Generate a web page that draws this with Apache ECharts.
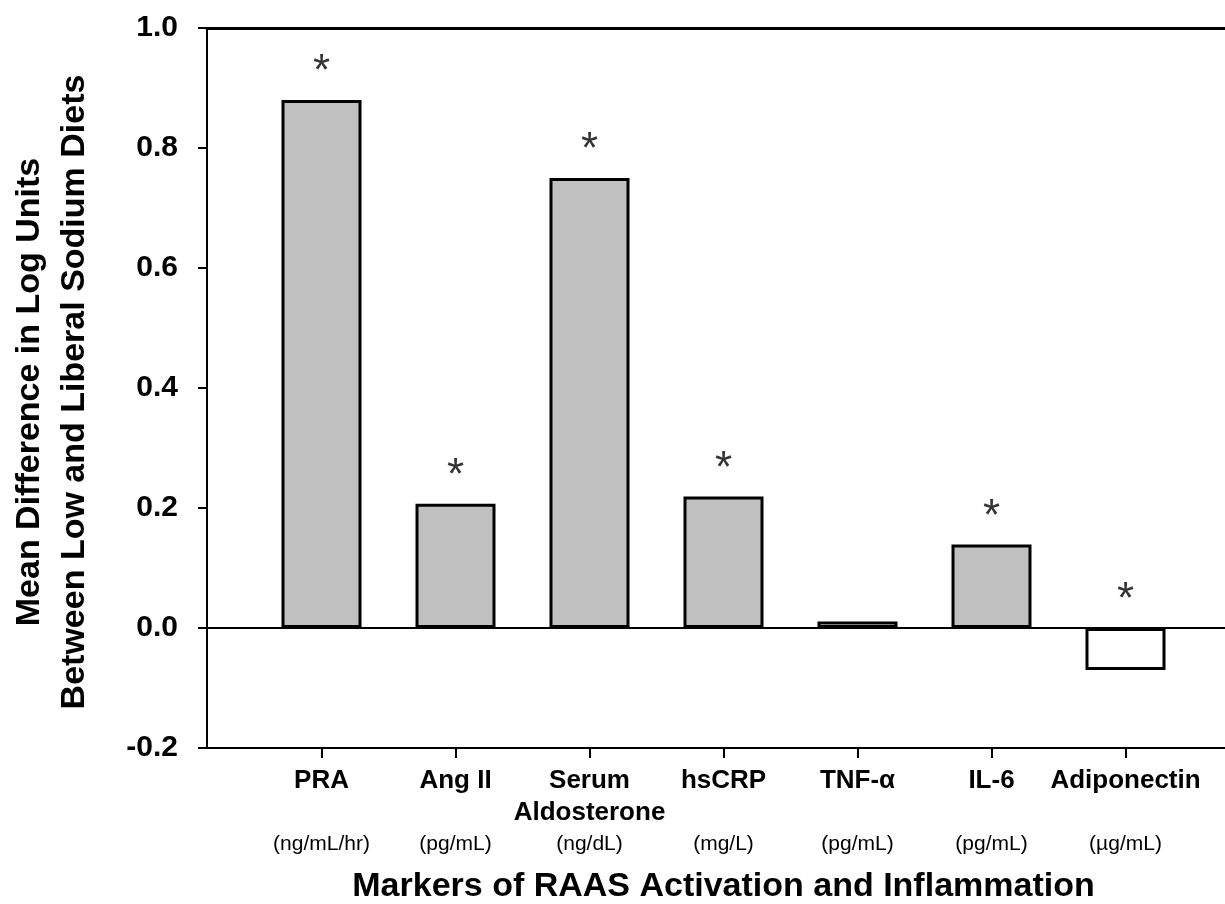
<!DOCTYPE html>
<html>
<head>
<meta charset="utf-8">
<script src="https://cdn.jsdelivr.net/npm/echarts@6/dist/echarts.min.js"></script>
<style>
html,body{margin:0;padding:0;background:#fff;}
#chart{width:1225px;height:904px;}
</style>
</head>
<body>
<div id="chart"></div>
<script>
var categories = ['PRA', 'Ang II', 'Serum\nAldosterone', 'hsCRP', 'TNF-α', 'IL-6', 'Adiponectin'];
var units = ['(ng/mL/hr)', '(pg/mL)', '(ng/dL)', '(mg/L)', '(pg/mL)', '(pg/mL)', '(µg/mL)'];
var values = [0.88, 0.207, 0.75, 0.219, 0.011, 0.139, -0.07];
var filled = [true, true, true, true, false, true, false];
var significant = [true, true, true, true, false, true, true];
var yTicks = { min: -0.2, max: 1.0, interval: 0.2 };
var xTitle = 'Markers of RAAS Activation and Inflammation';
var yTitleLines = ['Mean Difference in Log Units', 'Between Low and Liberal Sodium Diets'];

var FONT = "'Liberation Sans', Arial, sans-serif";

var barData = values.map(function (v, i) {
  return {
    value: v,
    itemStyle: { color: filled[i] ? '#c0c0c0' : '#ffffff', borderColor: '#000', borderWidth: 3 }
  };
});
var starData = values.map(function (v, i) {
  return significant[i] ? Math.max(v, 0) : '-';
});

var chart = echarts.init(document.getElementById('chart'), null, { renderer: 'canvas' });
chart.setOption({
  backgroundColor: '#ffffff',
  animation: false,
  textStyle: { fontFamily: FONT },
  grid: [
    { left: 207, right: 0, top: 28, bottom: 156, outerBoundsMode: 'none', containLabel: false },
    { left: 254.5, right: 32.5, top: 28, bottom: 156, outerBoundsMode: 'none', containLabel: false }
  ],
  xAxis: [
    { type: 'value', gridIndex: 0, min: 0, max: 1, position: 'bottom',
      axisLine: { show: true, onZero: false, lineStyle: { color: '#000', width: 2 } },
      axisTick: { show: false }, axisLabel: { show: false }, splitLine: { show: false } },
    { type: 'value', gridIndex: 0, min: 0, max: 1, position: 'top',
      axisLine: { show: true, onZero: false, lineStyle: { color: '#000', width: 3 } },
      axisTick: { show: false }, axisLabel: { show: false }, splitLine: { show: false } },
    { type: 'category', gridIndex: 1, data: categories, position: 'bottom',
      axisLine: { show: false, onZero: false },
      axisTick: { show: true, alignWithLabel: true, length: 10, lineStyle: { color: '#000', width: 2 } },
      axisLabel: {
        interval: 0, margin: 17,
        formatter: function (val, idx) {
          var parts = val.split('\n');
          var lines = parts.map(function (p) { return '{n|' + p + '}'; });
          while (lines.length < 2) lines.push('{n| }');
          lines.push('{u|' + units[idx] + '}');
          return lines.join('\n');
        },
        rich: {
          n: { fontFamily: FONT, fontWeight: 'bold', fontSize: 26, lineHeight: 32, color: '#000' },
          u: { fontFamily: FONT, fontSize: 21, lineHeight: 30, color: '#000' }
        }
      },
      name: xTitle, nameLocation: 'middle', nameGap: 122,
      nameTextStyle: { fontFamily: FONT, fontWeight: 'bold', fontSize: 34, color: '#000' }
    }
  ],
  yAxis: [
    { type: 'value', gridIndex: 0, min: yTicks.min, max: yTicks.max, interval: yTicks.interval,
      axisLine: { show: true, onZero: false, lineStyle: { color: '#000', width: 2 } },
      axisTick: { show: true, length: 9, lineStyle: { color: '#000', width: 2 } },
      axisLabel: { margin: 29, fontFamily: FONT, fontWeight: 'bold', fontSize: 30, color: '#000',
        formatter: function (v) { return v.toFixed(1); } },
      splitLine: { show: false } },
    { type: 'value', gridIndex: 1, min: yTicks.min, max: yTicks.max, interval: yTicks.interval, show: false }
  ],
  series: [
    { type: 'line', xAxisIndex: 0, yAxisIndex: 0, data: [], z: 1, silent: true,
      markLine: { silent: true, symbol: 'none', label: { show: false },
        lineStyle: { color: '#000', width: 2, type: 'solid' },
        data: [{ yAxis: 0 }] } },
    { type: 'bar', xAxisIndex: 2, yAxisIndex: 1, data: barData, barWidth: 80, z: 3 },
    { type: 'scatter', xAxisIndex: 2, yAxisIndex: 1, data: starData, symbolSize: 0, z: 4, silent: true,
      label: { show: true, position: 'top', distance: 5, formatter: '*',
        fontFamily: FONT, fontSize: 44, color: '#000' } }
  ],
  graphic: [
    { type: 'text', x: 52, y: 392, rotation: Math.PI / 2,
      style: { text: yTitleLines[0] + '\n' + yTitleLines[1], fontFamily: FONT, fontWeight: 'bold',
        fontSize: 34, lineHeight: 45, fill: '#000', align: 'center', verticalAlign: 'middle' } }
  ]
});
</script>
</body>
</html>
